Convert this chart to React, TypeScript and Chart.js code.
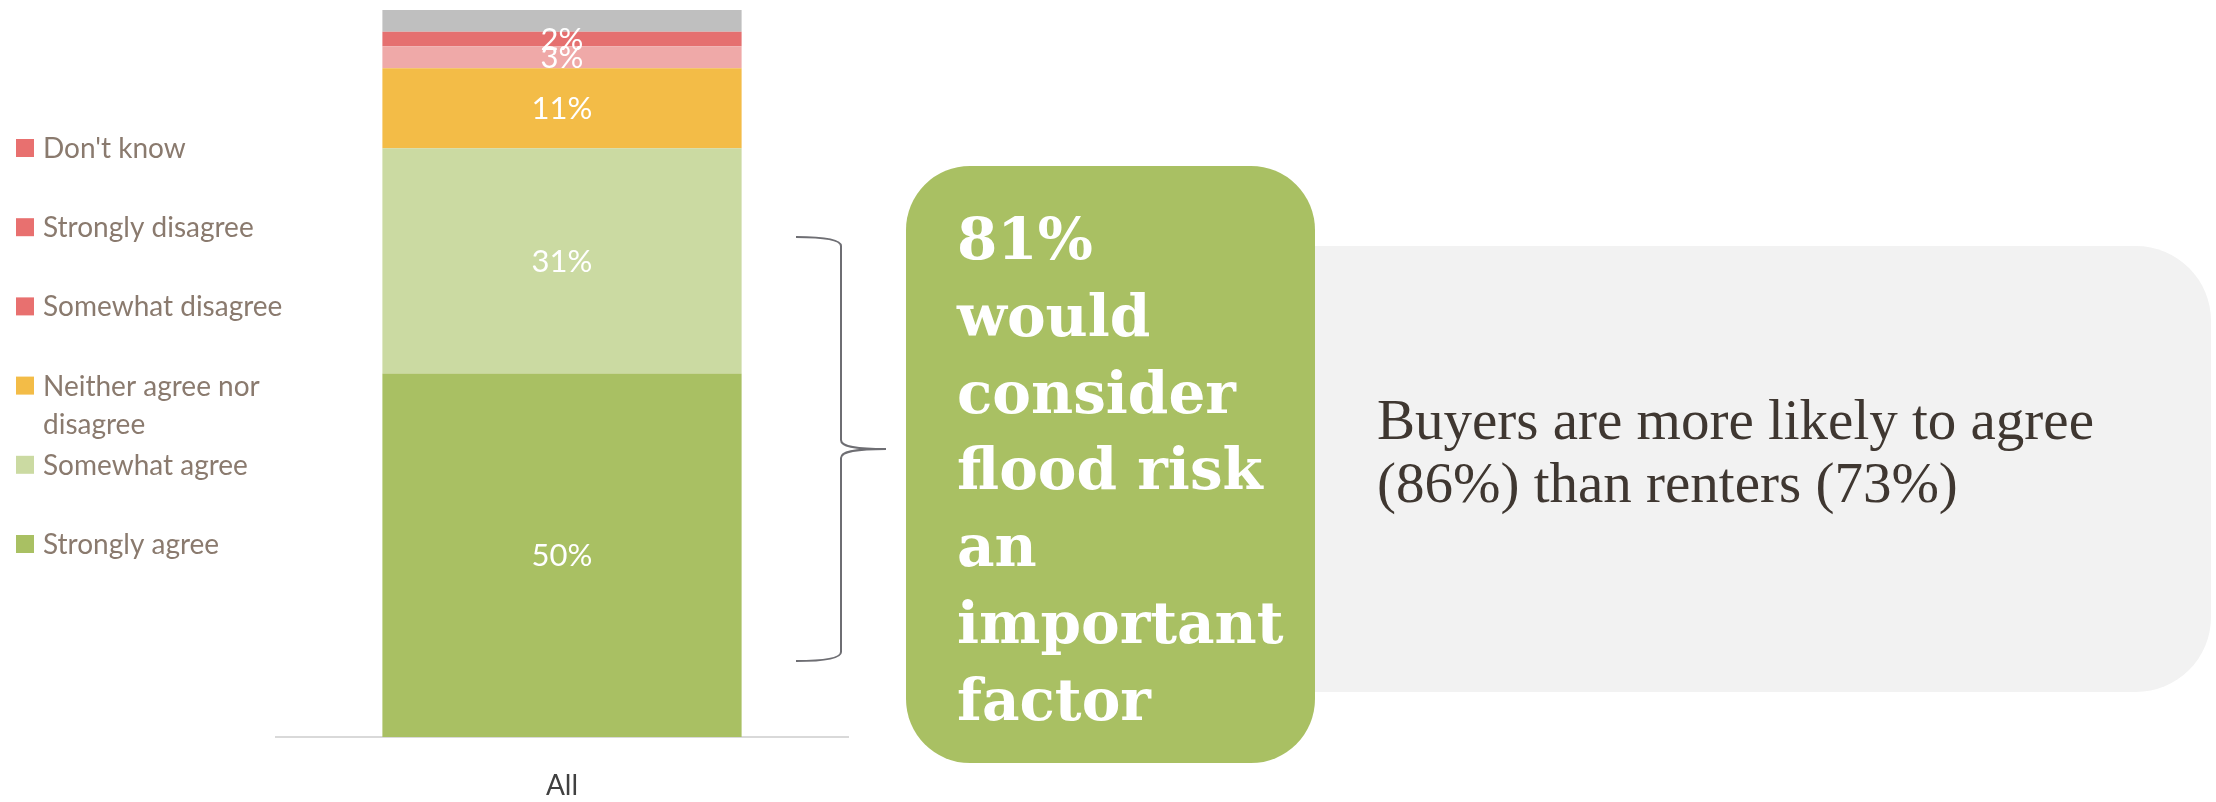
import { useEffect, useRef } from "react";
import { Chart, registerables } from "chart.js";

Chart.register(...registerables);

// ---------- data ----------
const categories = ["All"];
const seriesNames = [
  "Strongly agree",
  "Somewhat agree",
  "Neither agree nor disagree",
  "Somewhat disagree",
  "Strongly disagree",
  "Don't know",
];
const stronglyAgree = [50];
const somewhatAgree = [31];
const neitherAgree = [11];
const somewhatDisagree = [3];
const stronglyDisagree = [2];
const dontKnow = [3];
const seriesValues = [stronglyAgree, somewhatAgree, neitherAgree, somewhatDisagree, stronglyDisagree, dontKnow];
const barColors = ["#A9C063", "#CBDAA2", "#F3BC47", "#EFA9A8", "#E57070", "#BFBFBF"];
const legendColors = ["#A9C063", "#CBDAA2", "#F3BC47", "#E8706F", "#E8706F", "#E8706F"];
const showValueLabel = [true, true, true, true, true, false];

const calloutLines = ["81%", "would", "consider", "flood risk", "an", "important", "factor"];
const noteLines = ["Buyers are more likely to agree", "(86%) than renters (73%)"];

// ---------- helpers ----------
function roundRect(ctx: CanvasRenderingContext2D, x: number, y: number, w: number, h: number, r: number) {
  ctx.beginPath();
  ctx.moveTo(x + r, y);
  ctx.lineTo(x + w - r, y);
  ctx.arcTo(x + w, y, x + w, y + r, r);
  ctx.lineTo(x + w, y + h - r);
  ctx.arcTo(x + w, y + h, x + w - r, y + h, r);
  ctx.lineTo(x + r, y + h);
  ctx.arcTo(x, y + h, x, y + h - r, r);
  ctx.lineTo(x, y + r);
  ctx.arcTo(x, y, x + r, y, r);
  ctx.closePath();
}

function wrapWords(ctx: CanvasRenderingContext2D, text: string, maxWidth: number): string[] {
  const words = text.split(" ");
  const lines: string[] = [];
  let cur = "";
  for (const w of words) {
    const test = cur ? cur + " " + w : w;
    if (cur && ctx.measureText(test).width > maxWidth) {
      lines.push(cur);
      cur = w;
    } else cur = test;
  }
  if (cur) lines.push(cur);
  return lines;
}

const valueLabelPlugin = {
  id: "valueLabels",
  afterDatasetsDraw(chart: any) {
    const ctx: CanvasRenderingContext2D = chart.ctx;
    ctx.save();
    ctx.font = "31px Lato";
    ctx.fillStyle = "#FFFFFF";
    ctx.textAlign = "center";
    ctx.textBaseline = "alphabetic";
    chart.data.datasets.forEach((ds: any, i: number) => {
      if (!showValueLabel[i]) return;
      const meta = chart.getDatasetMeta(i);
      meta.data.forEach((el: any, j: number) => {
        const p = el.getProps(["x", "y", "base"], true);
        const cy = (p.y + p.base) / 2;
        ctx.fillText(ds.data[j] + "%", p.x, cy + 31 * 0.36);
      });
    });
    ctx.restore();
  },
};

const overlayPlugin = {
  id: "overlay",
  afterDraw(chart: any) {
    const ctx: CanvasRenderingContext2D = chart.ctx;
    ctx.save();

    // legend (top to bottom = reverse of stacking order)
    ctx.font = "28px Lato";
    ctx.textAlign = "left";
    ctx.textBaseline = "alphabetic";
    const n = seriesNames.length;
    for (let k = 0; k < n; k++) {
      const i = n - 1 - k;
      const cy = 148 + k * 79.2;
      ctx.fillStyle = legendColors[i];
      ctx.fillRect(16, cy - 9, 18, 18);
      ctx.fillStyle = "#8A7A6E";
      const lines = wrapWords(ctx, seriesNames[i], 262);
      lines.forEach((ln, li) => ctx.fillText(ln, 43, cy + 10 + li * 38));
    }

    // grey note box
    ctx.fillStyle = "#F2F2F2";
    roundRect(ctx, 1200, 246, 2211 - 1200, 692 - 246, 75);
    ctx.fill();

    // green callout box
    ctx.fillStyle = "#A9C063";
    roundRect(ctx, 906, 166, 1315 - 906, 763 - 166, 64);
    ctx.fill();

    ctx.fillStyle = "#FFFFFF";
    ctx.font = "bold 58px 'DejaVu Serif'";
    calloutLines.forEach((ln, li) => ctx.fillText(ln, 957, 259 + li * 76.8));

    ctx.fillStyle = "#3F3731";
    ctx.font = "57px 'Liberation Serif'";
    noteLines.forEach((ln, li) => ctx.fillText(ln, 1377, 439 + li * 63));

    // brace
    ctx.strokeStyle = "#6E6E73";
    ctx.lineWidth = 2;
    ctx.beginPath();
    ctx.moveTo(796, 237);
    ctx.bezierCurveTo(822, 237, 841, 239, 841, 246);
    ctx.lineTo(841, 440);
    ctx.bezierCurveTo(841, 446, 852, 449, 886, 449);
    ctx.moveTo(886, 449);
    ctx.bezierCurveTo(852, 449, 841, 452, 841, 458);
    ctx.lineTo(841, 652);
    ctx.bezierCurveTo(841, 659, 822, 661, 796, 661);
    ctx.stroke();

    ctx.restore();
  },
};

export default function App() {
  const canvasRef = useRef<HTMLCanvasElement | null>(null);

  useEffect(() => {
    if (!canvasRef.current) return;
    const chart = new Chart(canvasRef.current, {
      type: "bar",
      data: {
        labels: categories,
        datasets: seriesNames.map((name, i) => ({
          label: name,
          data: seriesValues[i],
          backgroundColor: barColors[i],
          borderWidth: 0,
          barPercentage: 0.628,
          categoryPercentage: 1,
        })),
      },
      options: {
        responsive: false,
        animation: false,
        devicePixelRatio: 1,
        layout: { padding: { left: 276, right: 1368, top: 10, bottom: 0 } },
        plugins: {
          legend: { display: false },
          tooltip: { enabled: false },
        },
        scales: {
          x: {
            stacked: true,
            grid: { display: false, drawTicks: false },
            border: { display: true, color: "#D9D9D9", width: 2 },
            ticks: { color: "#404040", font: { family: "Lato", size: 28 }, padding: 32 },
            afterFit: (scale: any) => {
              scale.height = 65;
            },
          },
          y: { stacked: true, display: false, min: 0, max: 100 },
        },
      } as any,
      plugins: [valueLabelPlugin, overlayPlugin],
    });
    return () => chart.destroy();
  }, []);

  return (
    <div style={{ position: "fixed", left: 0, top: 0, width: 2216, height: 802, background: "#FFFFFF" }}>
      <canvas ref={canvasRef} width={2216} height={802} style={{ width: 2216, height: 802, display: "block" }} />
    </div>
  );
}
